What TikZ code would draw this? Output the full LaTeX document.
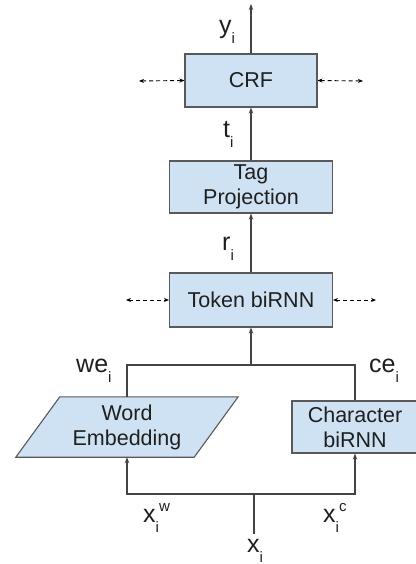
\documentclass[tikz,border=0pt]{standalone}
\usepackage{fontspec}
\setmainfont{Liberation Sans}
\usetikzlibrary{arrows.meta,calc}
\definecolor{boxfill}{HTML}{CFE2F3}
\definecolor{boxline}{HTML}{595959}
\definecolor{wirecol}{HTML}{444444}
\definecolor{ink}{HTML}{1F1F1F}
\pgfdeclarelayer{bg}
\pgfsetlayers{bg,main}
\newcommand{\bxfont}{\fontsize{21.5}{25}\selectfont}
\newcommand{\lbfont}{\fontsize{25}{25}\selectfont}
\newcommand{\sbi}[1]{\raisebox{-10pt}{\fontsize{15}{15}\selectfont #1}}
\newcommand{\spi}[1]{\raisebox{11pt}{\fontsize{15}{15}\selectfont #1}}
\begin{document}
\begin{tikzpicture}[x=1pt,y=-1pt,
 blk/.style={draw=boxline, fill=boxfill, line width=1.1pt, inner sep=0pt, align=center, font=\bxfont, text=ink},
 lab/.style={anchor=base west, inner sep=0pt, font=\lbfont, text=ink},
 wire/.style={draw=wirecol, line width=1.2pt, -{Stealth[length=6pt,width=4.5pt]}},
 plain/.style={draw=wirecol, line width=1.2pt},
 side/.style={draw=black, line width=0.9pt, dash pattern=on 4pt off 3pt, {Stealth[length=5pt,width=4pt]}-{Stealth[length=5pt,width=4pt]}}]
\useasboundingbox (0,0) rectangle (415,564);
% boxes
\node[blk, minimum width=132pt, minimum height=53pt] (crf) at (251,80.5) {CRF};
\node[blk, minimum width=163pt, minimum height=52pt] (tag) at (251,187) {Tag\\Projection};
\node[blk, minimum width=163pt, minimum height=54pt] (tok) at (251,300) {Token biRNN};
\node[blk, minimum width=126pt, minimum height=52pt] (ch) at (355,427) {Character\\biRNN};
\node[inner sep=0pt, align=center, font=\bxfont, text=ink, minimum width=178pt, minimum height=60pt] (we) at (127,427) {Word\\Embedding};
\begin{pgfonlayer}{bg}
\path[draw=boxline, fill=boxfill, line width=1.1pt, line join=miter]
  ($(we.north west)+(22,0)$) -- ($(we.north east)+(22,0)$) -- ($(we.south east)+(-22,0)$) -- ($(we.south west)+(-22,0)$) -- cycle;
\end{pgfonlayer}
% coordinates
\coordinate (yo) at (251,4);
\coordinate (mg) at (251,365);
\coordinate (xs) at (254,494);
\coordinate (xb) at (254,534);
\coordinate (cl) at (139,81);
\coordinate (cr) at (363,81);
\coordinate (tl) at (126,300);
\coordinate (tr) at (376,300);
% connectors
\draw[wire] (crf.north) -- (yo);
\draw[wire] (tag.north) -- (crf.south);
\draw[wire] (tok.north) -- (tag.south);
\draw[plain] (we.north) |- (mg) -| (ch.north);
\draw[wire] (mg) -- (tok.south);
\draw[plain] (xb) -- (xs);
\draw[wire] (xs) -| (we.south);
\draw[wire] (xs) -| (ch.south);
\draw[side] (cl) -- (crf.west);
\draw[side] (crf.east) -- (cr);
\draw[side] (tl) -- (tok.west);
\draw[side] (tok.east) -- (tr);
% labels
\node[lab] (ly) at (219,34) {y\sbi{i}};
\node[lab] (lt) at (223,138) {t\sbi{i}};
\node[lab] (lr) at (222,250) {r\sbi{i}};
\node[lab] (lwe) at (76,372) {we\sbi{i}};
\node[lab] (lce) at (369,372) {ce\sbi{i}};
\node[lab] (lxw) at (143,522) {x\sbi{i}\spi{w}};
\node[lab] (lxc) at (323,522) {x\sbi{i}\spi{c}};
\node[lab] (lx) at (247,552) {x\sbi{i}};
\end{tikzpicture}
\end{document}
